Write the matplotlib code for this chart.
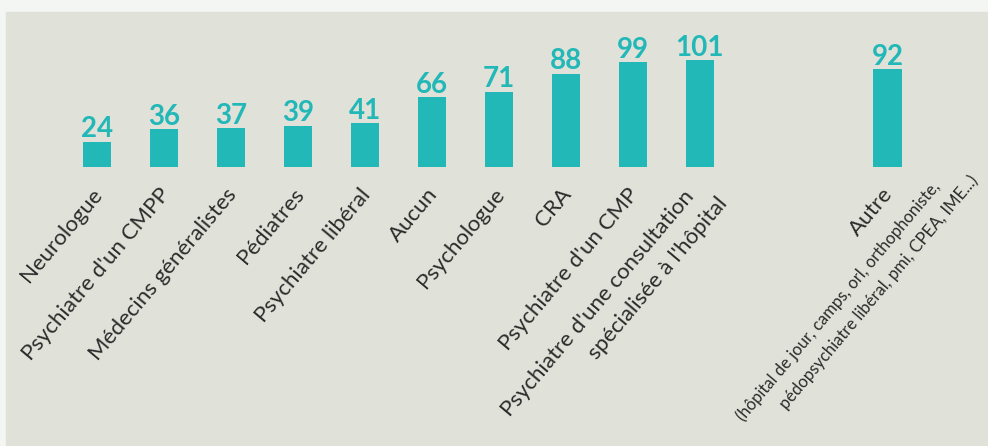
import numpy as np
import matplotlib.pyplot as plt
from matplotlib.patches import Rectangle
from matplotlib.transforms import ScaledTranslation

# Professionnels consultés (nombre de réponses)
categories = ["Neurologue", "Psychiatre d'un CMPP", "Médecins généralistes", "Pédiatres",
              "Psychiatre libéral", "Aucun", "Psychologue", "CRA", "Psychiatre d'un CMP",
              "Psychiatre d'une consultation", "Autre"]
second_lines = {9: "spécialisée à l'hôpital"}
values = [24, 36, 37, 39, 41, 66, 71, 88, 99, 101, 92]
autre_detail = ["(hôpital de jour, camps, orl, orthophoniste,",
                "pédopsychiatre libéral, pmi, CPEA, IME...)"]

teal = "#22b8b8"
panel = "#e0e1d8"
txt = "#2b2b2b"
fam = ["Lato", "DejaVu Sans"]

W, H = 988, 446
fig = plt.figure(figsize=(W / 100, H / 100), dpi=100, facecolor="#f4f6f3")
fig.add_artist(Rectangle((6 / W, 0), 1, (H - 12) / H, transform=fig.transFigure,
                         color=panel, zorder=0))

ax = fig.add_axes([6 / W, (H - 167) / H, (W - 6) / W, 155 / H])
ax.set_facecolor("none")
ax.axis("off")

# "Autre" is set apart from the others
x = np.append(np.arange(len(values) - 1), 11.8)
ax.bar(x, values, width=0.42, color=teal)
ax.set_xlim(-1.358, 13.30)
ax.set_ylim(0, 146)

for xi, v in zip(x, values):
    ax.annotate(str(v), (xi, v), xytext=(0, 3), textcoords="offset points",
                ha="center", va="baseline", fontsize=20, fontweight="bold",
                color=teal, family=fam)


def rot_label(xi, s, dx, dy, size=16):
    # dx, dy in pixels from the bar base to the right end of the text
    tr = ax.transData + ScaledTranslation(dx / 100, -dy / 100, fig.dpi_scale_trans)
    ax.text(xi, 0, s, rotation=50, rotation_mode="anchor", ha="right", va="center",
            fontsize=size, color=txt, family=fam, transform=tr)


for i, lab in enumerate(categories):
    if i == 9:
        rot_label(x[i], lab, -10, 26)
        rot_label(x[i], second_lines[9], 24, 33)
    else:
        rot_label(x[i], lab, 2, 24)

rot_label(x[-1], autre_detail[0], 49, 17, size=12)
rot_label(x[-1], autre_detail[1], 87, 11, size=12)

fig.savefig("out.png", dpi=100, facecolor=fig.get_facecolor())
